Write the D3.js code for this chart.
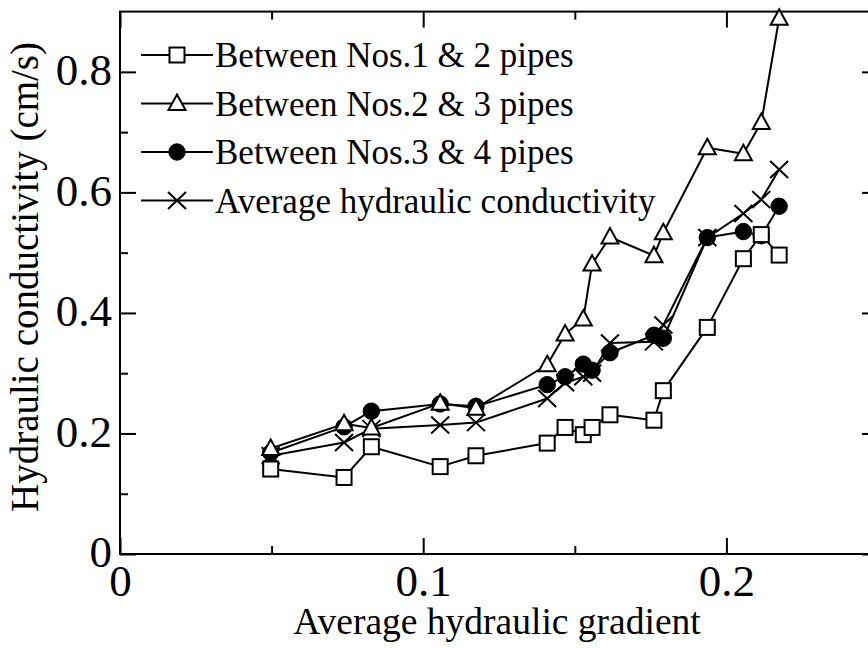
<!DOCTYPE html>
<html>
<head>
<meta charset="utf-8">
<script src="https://cdn.jsdelivr.net/npm/d3@7"></script>
<style>
  html, body { margin: 0; padding: 0; background: #fff; }
  svg { display: block; }
</style>
</head>
<body>
<svg id="chart" width="868" height="648"></svg>
<script>
// ---- data ----
const gradient = [0.0497, 0.0739, 0.0829, 0.1056, 0.1174, 0.1409, 0.1468, 0.1528,
                  0.1557, 0.1616, 0.1761, 0.1792, 0.1937, 0.2056, 0.2115, 0.2174];
const pipes12 = [0.141, 0.127, 0.178, 0.145, 0.163, 0.184, 0.210, 0.198,
                 0.210, 0.231, 0.222, 0.271, 0.376, 0.490, 0.530, 0.496];
const pipes23 = [0.175, 0.216, 0.209, 0.250, 0.242, 0.314, 0.365, 0.390,
                 0.481, 0.526, 0.495, 0.533, 0.674, 0.664, 0.716, 0.889];
const pipes34 = [0.168, 0.211, 0.237, 0.249, 0.245, 0.281, 0.294, 0.315,
                 0.305, 0.334, 0.363, 0.358, 0.525, 0.535, 0.528, 0.577];
const averageK = [0.163, 0.185, 0.208, 0.214, 0.218, 0.258, 0.284, 0.294,
                  0.300, 0.350, 0.352, 0.380, 0.525, 0.565, 0.588, 0.638];
const seriesNames = ["Between Nos.1 & 2 pipes", "Between Nos.2 & 3 pipes",
                     "Between Nos.3 & 4 pipes", "Average hydraulic conductivity"];
const xMajorTicks = [0, 0.1, 0.2];
const xMinorTicks = [0.05, 0.15, 0.25];
const yMajorTicks = [0, 0.2, 0.4, 0.6, 0.8];
const yMinorTicks = [0.1, 0.3, 0.5, 0.7];
const xTitle = "Average hydraulic gradient";
const yTitle = "Hydraulic conductivity (cm/s)";

// ---- layout ----
const FONT = "'Liberation Serif', 'Times New Roman', serif";
const svg = d3.select("#chart");
const x = d3.scaleLinear().domain([0, 0.25]).range([120, 878]);
const y = d3.scaleLinear().domain([0, 0.9]).range([554, 11.6]);
const fmt = d => d === 0 ? "0" : d3.format(".1f")(d);
const TICK_FONT = 45;

// frame
svg.append("rect")
  .attr("x", x(0)).attr("y", y(0.9))
  .attr("width", x(0.25) - x(0)).attr("height", y(0) - y(0.9))
  .attr("fill", "none").attr("stroke", "#000").attr("stroke-width", 2);

function styleAxis(g) {
  g.attr("font-family", FONT).attr("font-size", TICK_FONT);
  g.select(".domain").remove();
  g.selectAll(".tick line").attr("stroke", "#000").attr("stroke-width", 2);
  g.selectAll(".tick text").attr("fill", "#000");
}

// bottom
svg.append("g").attr("transform", `translate(0,${y(0)})`)
  .call(d3.axisBottom(x).tickValues(xMajorTicks).tickSize(-16).tickPadding(10).tickFormat(fmt))
  .call(styleAxis);
svg.append("g").attr("transform", `translate(0,${y(0)})`)
  .call(d3.axisBottom(x).tickValues(xMinorTicks).tickSize(-8).tickFormat(""))
  .call(styleAxis);
// top
svg.append("g").attr("transform", `translate(0,${y(0.9)})`)
  .call(d3.axisTop(x).tickValues(xMajorTicks.concat([0.25])).tickSize(-16).tickFormat(""))
  .call(styleAxis);
svg.append("g").attr("transform", `translate(0,${y(0.9)})`)
  .call(d3.axisTop(x).tickValues(xMinorTicks).tickSize(-8).tickFormat(""))
  .call(styleAxis);
// left
svg.append("g").attr("transform", `translate(${x(0)},0)`)
  .call(d3.axisLeft(y).tickValues(yMajorTicks).tickSize(-16).tickPadding(8).tickFormat(fmt))
  .call(styleAxis)
  .call(g => g.selectAll("text").attr("dy", "0.28em"));
svg.append("g").attr("transform", `translate(${x(0)},0)`)
  .call(d3.axisLeft(y).tickValues(yMinorTicks).tickSize(-8).tickFormat(""))
  .call(styleAxis);
// right
svg.append("g").attr("transform", `translate(${x(0.25)},0)`)
  .call(d3.axisRight(y).tickValues(yMajorTicks).tickSize(-16).tickFormat(""))
  .call(styleAxis);
svg.append("g").attr("transform", `translate(${x(0.25)},0)`)
  .call(d3.axisRight(y).tickValues(yMinorTicks).tickSize(-8).tickFormat(""))
  .call(styleAxis);

// axis titles
svg.append("text").attr("x", 497).attr("y", 634).attr("font-family", FONT)
  .attr("text-anchor", "middle").attr("font-size", 37.5).text(xTitle);
svg.append("text").attr("transform", "translate(38,277) rotate(-90)").attr("font-family", FONT)
  .attr("text-anchor", "middle").attr("font-size", 39).text(yTitle);

// markers
const symbolDraw = {
  square: (g, cx, cy) => g.append("rect").attr("x", cx - 7.5).attr("y", cy - 7.5)
      .attr("width", 15).attr("height", 15).attr("fill", "#fff").attr("stroke", "#000").attr("stroke-width", 2),
  triangle: (g, cx, cy) => g.append("path")
      .attr("d", `M${cx},${cy - 9}L${cx + 8.5},${cy + 6.5}L${cx - 8.5},${cy + 6.5}Z`)
      .attr("fill", "#fff").attr("stroke", "#000").attr("stroke-width", 2),
  circle: (g, cx, cy) => g.append("circle").attr("cx", cx).attr("cy", cy).attr("r", 8.2)
      .attr("fill", "#000").attr("stroke", "#000").attr("stroke-width", 1),
  cross: (g, cx, cy) => g.append("path")
      .attr("d", `M${cx - 9},${cy - 8.5}L${cx + 9},${cy + 8.5}M${cx - 9},${cy + 8.5}L${cx + 9},${cy - 8.5}`)
      .attr("fill", "none").attr("stroke", "#000").attr("stroke-width", 2)
};

const series = [
  { name: seriesNames[0], values: pipes12, sym: "square" },
  { name: seriesNames[1], values: pipes23, sym: "triangle" },
  { name: seriesNames[2], values: pipes34, sym: "circle" },
  { name: seriesNames[3], values: averageK, sym: "cross" }
];

const line = d3.line().x(d => x(d[0])).y(d => y(d[1]));
const plot = svg.append("g");
// draw order: average, 3&4, 2&3, 1&2
[3, 2, 1, 0].forEach(i => {
  const s = series[i];
  const pts = gradient.map((g, k) => [g, s.values[k]]);
  const g = plot.append("g");
  g.append("path").attr("d", line(pts)).attr("fill", "none")
    .attr("stroke", "#000").attr("stroke-width", 2).attr("stroke-linejoin", "round");
  pts.forEach(p => symbolDraw[s.sym](g, x(p[0]), y(p[1])));
});

// legend
const legend = svg.append("g");
series.forEach((s, i) => {
  const cy = 55 + i * 48.5;
  legend.append("line").attr("x1", 141).attr("x2", 213).attr("y1", cy).attr("y2", cy)
    .attr("stroke", "#000").attr("stroke-width", 2);
  symbolDraw[s.sym](legend, 177, cy);
  legend.append("text").attr("x", 215).attr("y", cy + 12).attr("font-family", FONT)
    .attr("font-size", 35).text(s.name);
});
</script>
</body>
</html>
